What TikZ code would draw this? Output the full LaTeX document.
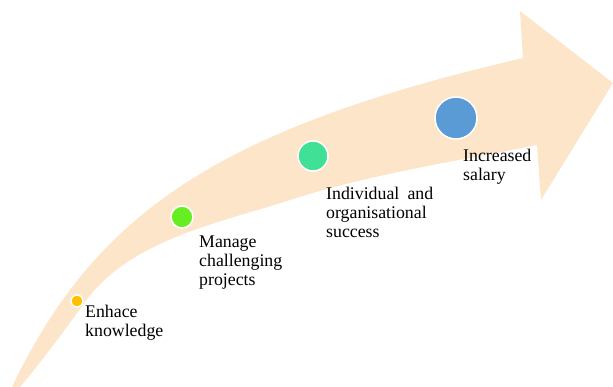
\documentclass[tikz,border=0pt]{standalone}
\usepackage{fontspec}
\setmainfont{Liberation Serif}
\begin{document}
\begin{tikzpicture}[x=1pt,y=-1pt,
  dot/.style={circle,draw=white,line width=1.5pt,inner sep=0pt},
  lbl/.style={anchor=base west,inner sep=0pt,align=left,font=\fontsize{17.8}{19}\selectfont}]
\definecolor{peach}{RGB}{253,229,202}
\definecolor{dotyellow}{RGB}{255,192,0}
\definecolor{dotgreen}{RGB}{102,238,34}
\definecolor{dotteal}{RGB}{64,224,150}
\definecolor{dotblue}{RGB}{91,155,213}
\useasboundingbox (0,0) rectangle (613,387);
\clip (0,0) rectangle (613,387);
% arrow
\fill[peach] (8,396) -- (12,387)
  .. controls (96.75,209.2) and (224.5,127.5) .. (523,58)
  -- (520,11) -- (613,83) -- (541,200) -- (537,145)
  .. controls (454.6,161.5) and (370,174.2) .. (290,200)
  .. controls (217.6,223.3) and (129.1,240.4) .. (85,302)
  .. controls (67.6,326.3) and (39.5,364.2) .. (20,387)
  -- (13,396) -- cycle;
% dots
\node[dot,fill=dotyellow,minimum size=12pt] (d1) at (77,301) {};
\node[dot,fill=dotgreen,minimum size=22pt] (d2) at (182,217) {};
\node[dot,fill=dotteal,minimum size=30pt] (d3) at (313,156) {};
\node[dot,fill=dotblue,minimum size=42pt] (d4) at (456,118) {};
% labels (anchored at the baseline of the last line)
\node[lbl] (t1) at (85,336) {Enhace\\knowledge};
\node[lbl] (t2) at (199,286) {Manage\\challenging\\projects};
\node[lbl] (t3) at (326,238) {\makebox[107pt][s]{Individual and}\\organisational\\success};
\node[lbl] (t4) at (463,181) {Increased\\salary};
\end{tikzpicture}
\end{document}
